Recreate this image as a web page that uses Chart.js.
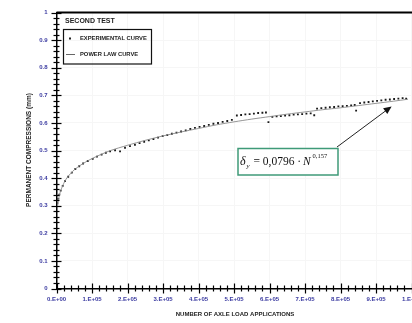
<!DOCTYPE html>
<html>
<head>
<meta charset="utf-8">
<script src="https://cdn.jsdelivr.net/npm/chart.js@4/dist/chart.umd.min.js"></script>
<style>
  html, body { margin: 0; padding: 0; background: #fff; overflow: hidden; width: 412px; height: 323px; }
  canvas { display: block; }
</style>
</head>
<body>
<canvas id="chart" width="430" height="323"></canvas>
<script>
// values
const xTickLabels = ['0.E+00', '1.E+05', '2.E+05', '3.E+05', '4.E+05', '5.E+05', '6.E+05', '7.E+05', '8.E+05', '9.E+05', '1.E+06'];
const yTickLabels = ['0', '0.1', '0.2', '0.3', '0.4', '0.5', '0.6', '0.7', '0.8', '0.9', '1'];

// experimental curve (N, permanent compression in mm)
const expN = [
  2.3e3, 5.1e3, 7.9e3, 1.18e4, 1.75e4, 2.4e4, 3.3e4, 4.3e4, 5.3e4, 6.4e4, 7.5e4, 8.8e4,
  1.02e5, 1.14e5, 1.27e5, 1.39e5, 1.51e5, 1.65e5, 1.79e5, 1.93e5, 2.07e5, 2.21e5, 2.34e5,
  2.47e5, 2.60e5, 2.73e5, 2.86e5, 2.99e5, 3.12e5, 3.25e5, 3.38e5, 3.51e5, 3.64e5, 3.77e5,
  3.90e5, 4.03e5, 4.16e5, 4.29e5, 4.42e5, 4.55e5, 4.68e5, 4.81e5, 4.94e5,
  5.08e5, 5.20e5, 5.32e5, 5.44e5, 5.56e5, 5.68e5, 5.80e5, 5.90e5, 5.97e5,
  6.08e5, 6.20e5, 6.32e5, 6.44e5, 6.56e5, 6.68e5, 6.80e5, 6.92e5, 7.04e5, 7.16e5, 7.26e5,
  7.34e5, 7.46e5, 7.58e5, 7.70e5, 7.82e5, 7.94e5, 8.06e5, 8.18e5, 8.30e5, 8.40e5, 8.44e5,
  8.55e5, 8.67e5, 8.79e5, 8.91e5, 9.03e5, 9.15e5, 9.27e5, 9.39e5, 9.51e5, 9.63e5, 9.75e5, 9.85e5
];
const expVal = [
  0.309, 0.325, 0.340, 0.355, 0.372, 0.389, 0.405, 0.420, 0.433, 0.443, 0.453, 0.462,
  0.470, 0.478, 0.485, 0.492, 0.497, 0.501, 0.497, 0.510, 0.516, 0.521, 0.527,
  0.532, 0.537, 0.542, 0.547, 0.552, 0.556, 0.561, 0.565, 0.569, 0.573, 0.578,
  0.582, 0.586, 0.589, 0.593, 0.597, 0.600, 0.604, 0.607, 0.611,
  0.627, 0.629, 0.631, 0.632, 0.634, 0.636, 0.637, 0.638, 0.603,
  0.622, 0.624, 0.625, 0.627, 0.628, 0.630, 0.631, 0.632, 0.634, 0.635, 0.628,
  0.652, 0.654, 0.655, 0.657, 0.658, 0.660, 0.661, 0.662, 0.664, 0.665, 0.645,
  0.672, 0.674, 0.676, 0.678, 0.680, 0.682, 0.684, 0.685, 0.687, 0.688, 0.690, 0.688
];

// power law curve
const fitN = [2e3, 5e3, 1e4, 2e4, 3e4, 5e4, 7.5e4, 1e5, 1.5e5, 2e5, 2.5e5, 3e5, 3.5e5, 4e5,
  4.5e5, 5e5, 5.5e5, 6e5, 6.5e5, 7e5, 7.5e5, 8e5, 8.5e5, 9e5, 9.5e5, 9.9e5];
const fitVal = [0.290, 0.318, 0.347, 0.380, 0.402, 0.430, 0.453, 0.471, 0.499, 0.519, 0.537, 0.553, 0.567, 0.580,
  0.593, 0.604, 0.614, 0.623, 0.632, 0.640, 0.648, 0.655, 0.663, 0.671, 0.679, 0.686];

const arrowTip = [9.44e5, 0.66];
const BLUE = '#3a3aa0';
const SANS = '"Liberation Sans", Arial, sans-serif';

const toPts = (xs, ys) => xs.map((x, i) => ({ x, y: ys[i] }));

const decor = {
  id: 'decor',
  afterDatasetsDraw(chart) {
    const { ctx, scales: { x, y } } = chart;
    const y0 = y.getPixelForValue(0);
    const x0 = x.getPixelForValue(0);
    ctx.save();
    ctx.strokeStyle = '#000';
    // top frame
    ctx.lineWidth = 2;
    ctx.beginPath();
    ctx.moveTo(x0, y.getPixelForValue(1));
    ctx.lineTo(chart.width, y.getPixelForValue(1));
    ctx.stroke();
    // crossing ticks, majors and minors
    ctx.lineWidth = 1.2;
    for (let i = 0; i <= 50; i++) {
      const px = Math.round(x.getPixelForValue(i * 2e4)) + 0.5;
      const major = i % 5 === 0;
      ctx.beginPath();
      ctx.moveTo(px, y0 - (major ? 5 : 3));
      ctx.lineTo(px, y0 + (major ? 5 : 3));
      ctx.stroke();
    }
    for (let i = 0; i <= 50; i++) {
      const py = Math.round(y.getPixelForValue(i * 0.02)) + 0.5;
      const major = i % 5 === 0;
      ctx.beginPath();
      ctx.moveTo(x0 - (major ? 5 : 3), py);
      ctx.lineTo(x0 + (major ? 5 : 3), py);
      ctx.stroke();
    }
    ctx.restore();
  },
  afterDraw(chart) {
    const { ctx, scales: { x, y } } = chart;
    ctx.save();
    // axis titles
    ctx.fillStyle = '#222';
    ctx.font = 'bold 6px ' + SANS;
    ctx.textAlign = 'center';
    ctx.textBaseline = 'middle';
    ctx.fillText('NUMBER OF AXLE LOAD APPLICATIONS', 235, 314);
    ctx.save();
    ctx.translate(29, 150);
    ctx.rotate(-Math.PI / 2);
    ctx.font = 'bold 6.5px ' + SANS;
    ctx.fillText('PERMANENT COMPRESSIONS (mm)', 0, 0);
    ctx.restore();

    // legend
    ctx.textAlign = 'left';
    ctx.font = 'bold 7px ' + SANS;
    ctx.fillText('SECOND TEST', 65, 21);
    ctx.strokeStyle = '#111';
    ctx.lineWidth = 1.2;
    ctx.strokeRect(63.5, 29.5, 88, 34.5);
    ctx.font = 'bold 5.8px ' + SANS;
    ctx.fillRect(69, 37.5, 2, 2);
    ctx.fillText('EXPERIMENTAL CURVE', 80, 38.5);
    ctx.strokeStyle = '#666';
    ctx.lineWidth = 1;
    ctx.beginPath();
    ctx.moveTo(66, 54.5);
    ctx.lineTo(75, 54.5);
    ctx.stroke();
    ctx.fillText('POWER LAW CURVE', 80, 54.5);

    // equation box
    ctx.fillStyle = '#fff';
    ctx.fillRect(238, 148.5, 100, 26.5);
    ctx.strokeStyle = '#3f9a78';
    ctx.lineWidth = 1.5;
    ctx.strokeRect(238, 148.5, 100, 26.5);
    ctx.fillStyle = '#111';
    ctx.textBaseline = 'alphabetic';
    const serif = '"Liberation Serif", "DejaVu Serif", serif';
    ctx.font = 'italic 12px ' + serif;
    ctx.fillText('\u03b4', 240, 165);
    ctx.font = 'italic 7px ' + serif;
    ctx.fillText('y', 246.5, 168);
    ctx.font = '11.5px ' + serif;
    ctx.fillText('= 0,0796 \u00b7', 253.5, 165);
    ctx.font = 'italic 11.5px ' + serif;
    ctx.fillText('N', 303, 165);
    ctx.font = '6.5px ' + serif;
    ctx.fillText('0,157', 312.5, 158);

    // arrow
    const tx = x.getPixelForValue(arrowTip[0]);
    const ty = y.getPixelForValue(arrowTip[1]);
    const sx = 337, sy = 147;
    const ang = Math.atan2(ty - sy, tx - sx);
    ctx.strokeStyle = '#222';
    ctx.lineWidth = 1;
    ctx.beginPath();
    ctx.moveTo(sx, sy);
    ctx.lineTo(tx - 6 * Math.cos(ang), ty - 6 * Math.sin(ang));
    ctx.stroke();
    ctx.fillStyle = '#111';
    ctx.beginPath();
    ctx.moveTo(tx, ty);
    ctx.lineTo(tx - 8 * Math.cos(ang) + 3.5 * Math.sin(ang), ty - 8 * Math.sin(ang) - 3.5 * Math.cos(ang));
    ctx.lineTo(tx - 8 * Math.cos(ang) - 3.5 * Math.sin(ang), ty - 8 * Math.sin(ang) + 3.5 * Math.cos(ang));
    ctx.closePath();
    ctx.fill();
    ctx.restore();
  }
};

new Chart(document.getElementById('chart'), {
  type: 'scatter',
  data: {
    datasets: [
      {
        label: 'POWER LAW CURVE',
        data: toPts(fitN, fitVal),
        showLine: true,
        borderColor: '#8a8a8a',
        borderWidth: 0.9,
        pointRadius: 0,
        tension: 0.3
      },
      {
        label: 'EXPERIMENTAL CURVE',
        data: toPts(expN, expVal),
        pointStyle: 'rect',
        pointRadius: 1.3,
        backgroundColor: '#1a1a1a',
        borderWidth: 0
      }
    ]
  },
  options: {
    responsive: false,
    animation: false,
    layout: { padding: { left: 0, right: 18.5, top: 8, bottom: 0 } },
    plugins: { legend: { display: false }, tooltip: { enabled: false } },
    scales: {
      x: {
        type: 'linear', min: 0, max: 1e6,
        afterFit: s => { s.height = 34.5; },
        grid: { color: '#f6f6f6', drawTicks: false },
        border: { color: '#000', width: 1.5 },
        ticks: {
          stepSize: 1e5, autoSkip: false, maxRotation: 0, padding: 7.5,
          color: BLUE, font: { size: 6, weight: 'bold', family: SANS },
          callback: (v, i) => xTickLabels[i]
        }
      },
      y: {
        min: 0, max: 1,
        afterFit: s => { s.width = 56.5; },
        grid: { color: '#f6f6f6', drawTicks: false },
        border: { color: '#000', width: 1.5 },
        ticks: {
          stepSize: 0.1, autoSkip: false, padding: 9,
          color: BLUE, font: { size: 6, weight: 'bold', family: SANS },
          callback: (v, i) => yTickLabels[i]
        }
      }
    }
  },
  plugins: [decor]
});
</script>
</body>
</html>
